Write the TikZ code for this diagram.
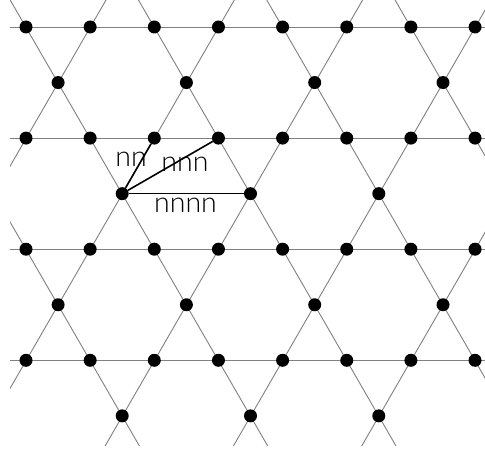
\documentclass[tikz,border=0pt]{standalone}
\usepackage{fontspec}
\setmainfont{Lato}[UprightFont={* Light}]
\usetikzlibrary{calc}
\begin{document}
\begin{tikzpicture}[x=1pt,y=-1pt,
  site/.style={circle,fill=black,inner sep=0pt,minimum size=13pt},
  latline/.style={draw=black!50,line width=0.9pt},
  bond/.style={draw=black,line width=1.6pt},
  lbl/.style={font=\fontsize{28.5}{28.5}\selectfont,inner sep=0pt,text=black}]
\useasboundingbox (0,0) rectangle (485,452);
\def\a{64.15}
\def\h{55.55}
% lattice lines
\begin{scope}
  \clip (10,0) rectangle (490,445);
  \foreach \j in {0,...,3}
    \draw[latline] (0,27+2*\j*\h) -- (490,27+2*\j*\h);
  \foreach \k in {-3,...,6}{
    \pgfmathsetmacro{\xk}{58.1+2*\k*\a}
    \draw[latline] (\xk+53.7,-10) -- (\xk-217.7,460);
  }
  \foreach \k in {-1,...,6}{
    \pgfmathsetmacro{\xk}{58.1+2*\k*\a}
    \draw[latline] (\xk-53.7,-10) -- (\xk+217.7,460);
  }
\end{scope}
% full-row sites
\foreach \i in {0,...,7}
  \foreach \j in {0,...,3}
    \node[site] (f-\i-\j) at (26+\i*\a,27+2*\j*\h) {};
% sparse-row sites
\foreach \k in {0,...,3}{
  \node[site] (s-0-\k) at (58.1+2*\k*\a,27+\h) {};
  \node[site] (s-2-\k) at (58.1+2*\k*\a,27+5*\h) {};
}
\foreach \k in {0,...,2}{
  \node[site] (s-1-\k) at (122.2+2*\k*\a,27+3*\h) {};
  \node[site] (s-3-\k) at (122.2+2*\k*\a,27+7*\h) {};
}
% neighbour bonds
\draw[bond] (s-1-0) -- (f-2-1);
\draw[bond] (s-1-0) -- (f-3-1);
\draw[bond] (s-1-0) -- (s-1-1);
% labels
\node[lbl] (lnn) at (131,159.5) {nn};
\node[lbl] (lnnn) at (185,164.5) {nnn};
\node[lbl] (lnnnn) at (185.5,205) {nnnn};
\end{tikzpicture}
\end{document}
